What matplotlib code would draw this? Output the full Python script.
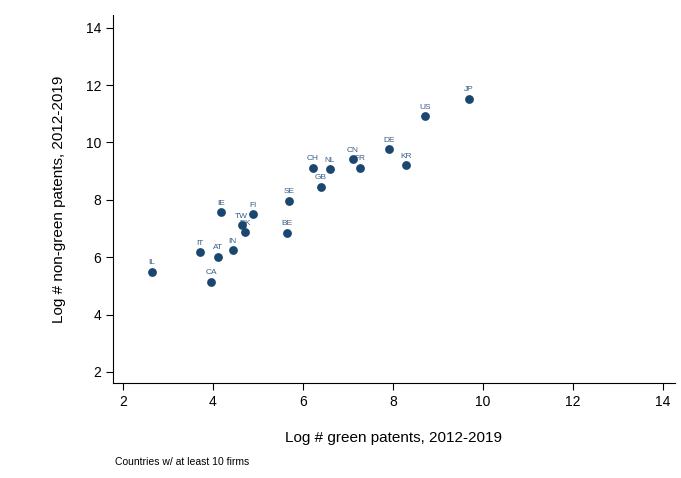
import matplotlib
matplotlib.use("Agg")
import matplotlib.pyplot as plt

plt.rcParams['font.family'] = ['Liberation Sans', 'DejaVu Sans']

countries = ["IL", "IT", "AT", "CA", "IN", "IE", "TW", "DK", "FI", "BE", "SE",
             "CH", "NL", "GB", "CN", "FR", "DE", "KR", "US", "JP"]
log_green = [2.64, 3.71, 4.11, 3.96, 4.44, 4.18, 4.64, 4.71, 4.89, 5.64, 5.69,
             6.22, 6.60, 6.40, 7.11, 7.27, 7.91, 8.29, 8.71, 9.69]
log_nongreen = [5.50, 6.17, 6.02, 5.14, 6.24, 7.57, 7.12, 6.87, 7.50, 6.85, 7.96,
                9.11, 9.06, 8.46, 9.42, 9.11, 9.77, 9.20, 10.91, 11.53]
xticks = [2, 4, 6, 8, 10, 12, 14]
yticks = [2, 4, 6, 8, 10, 12, 14]

color = '#1a476f'
fig = plt.figure(figsize=(6.81, 4.78), dpi=100)
ax = fig.add_axes([0.166, 0.199, 0.825, 0.770])

for c, x, y in zip(countries, log_green, log_nongreen):
    ax.annotate(c, (x, y), xytext=(0, 4), textcoords='offset points',
                ha='center', va='bottom', fontsize=6, color='#3a5f88', zorder=3)
ax.scatter(log_green, log_nongreen, s=40, color=color, zorder=4, linewidths=0)

ax.set_xlim(1.78, 14.27)
ax.set_ylim(1.62, 14.45)
ax.set_xticks(xticks)
ax.set_yticks(yticks)
ax.tick_params(direction='out', length=5, width=0.8, labelsize=10, colors='black')
for s in ['top', 'right']:
    ax.spines[s].set_visible(False)
for s in ['left', 'bottom']:
    ax.spines[s].set_linewidth(0.8)

ax.set_xlabel('Log # green patents, 2012-2019', fontsize=11, labelpad=16)
ax.set_ylabel('Log # non-green patents, 2012-2019', fontsize=11, labelpad=14)
fig.text(0.169, 0.023, 'Countries w/ at least 10 firms', fontsize=7.5, ha='left', va='bottom')

fig.savefig('out.png', dpi=100)
